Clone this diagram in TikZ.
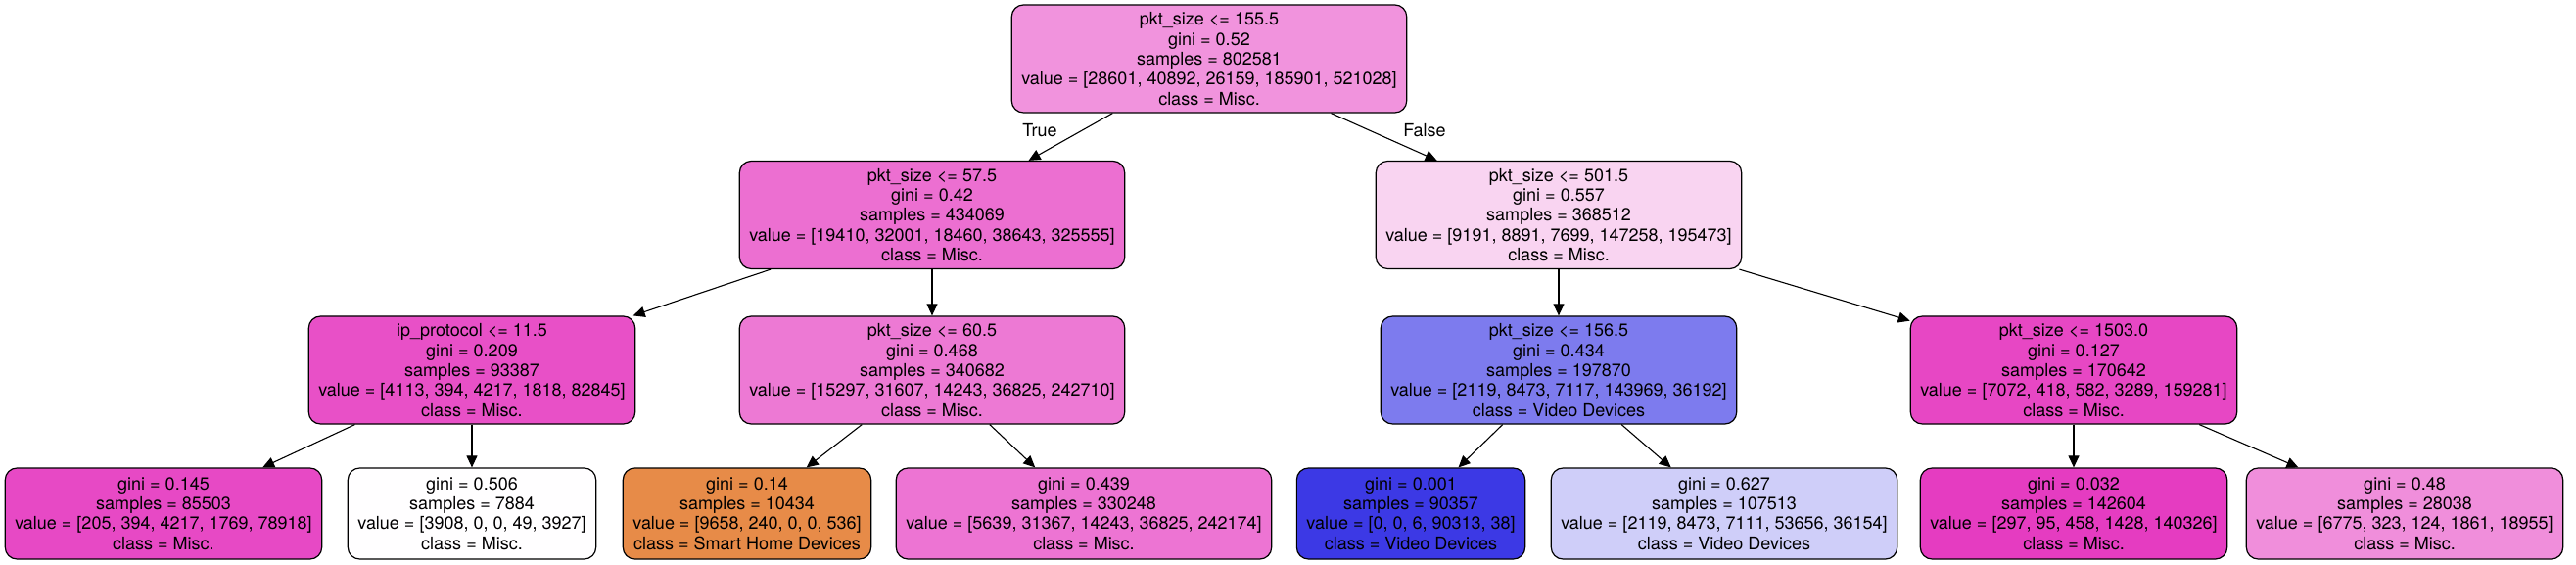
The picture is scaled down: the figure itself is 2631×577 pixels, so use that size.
\documentclass[tikz,border=0pt]{standalone}
\usepackage{fontspec}
\setmainfont{TeX Gyre Heros}
\usetikzlibrary{arrows.meta}
\definecolor{c0}{HTML}{F193DD}
\definecolor{c1}{HTML}{EC6FD1}
\definecolor{c2}{HTML}{F9D4F1}
\definecolor{c3}{HTML}{E850C7}
\definecolor{c4}{HTML}{ED79D4}
\definecolor{c5}{HTML}{7D7BEE}
\definecolor{c6}{HTML}{E747C4}
\definecolor{c7}{HTML}{E749C5}
\definecolor{c8}{HTML}{FFFEFF}
\definecolor{c9}{HTML}{E78B48}
\definecolor{c10}{HTML}{ED74D3}
\definecolor{c11}{HTML}{3C39E5}
\definecolor{c12}{HTML}{CFCEF9}
\definecolor{c13}{HTML}{E53CC1}
\definecolor{c14}{HTML}{F08EDB}
\tikzset{tnode/.style={draw,rounded corners=6pt,line width=0.6pt,align=center,inner xsep=5pt,inner ysep=0pt,minimum height=55pt,font=\fontsize{9pt}{10.15pt}\selectfont},
  tleaf/.style={tnode,minimum height=46.5pt},
  tedge/.style={line width=0.55pt,-{Triangle[length=6pt,width=5.5pt]}},
  tlabel/.style={font=\fontsize{9pt}{10.15pt}\selectfont}}

\begin{document}
\begin{tikzpicture}[x=0.5pt,y=-0.5pt]
  \useasboundingbox (0,0) rectangle (2631,577);
  % splits
  \node[tnode,fill=c0] (root) at (1235,60) {pkt\_size <= 155.5\\gini = 0.52\\samples = 802581\\value = [28601, 40892, 26159, 185901, 521028]\\class = Misc.};
  \node[tnode,fill=c1] (l) at (952,219.5) {pkt\_size <= 57.5\\gini = 0.42\\samples = 434069\\value = [19410, 32001, 18460, 38643, 325555]\\class = Misc.};
  \node[tnode,fill=c2] (r) at (1592,219.5) {pkt\_size <= 501.5\\gini = 0.557\\samples = 368512\\value = [9191, 8891, 7699, 147258, 195473]\\class = Misc.};
  \node[tnode,fill=c3] (ll) at (482,378) {ip\_protocol <= 11.5\\gini = 0.209\\samples = 93387\\value = [4113, 394, 4217, 1818, 82845]\\class = Misc.};
  \node[tnode,fill=c4] (lr) at (952,378) {pkt\_size <= 60.5\\gini = 0.468\\samples = 340682\\value = [15297, 31607, 14243, 36825, 242710]\\class = Misc.};
  \node[tnode,fill=c5] (rl) at (1592,378) {pkt\_size <= 156.5\\gini = 0.434\\samples = 197870\\value = [2119, 8473, 7117, 143969, 36192]\\class = Video Devices};
  \node[tnode,fill=c6] (rr) at (2118,378) {pkt\_size <= 1503.0\\gini = 0.127\\samples = 170642\\value = [7072, 418, 582, 3289, 159281]\\class = Misc.};
  % leaves
  \node[tleaf,fill=c7] (lll) at (167,524.5) {gini = 0.145\\samples = 85503\\value = [205, 394, 4217, 1769, 78918]\\class = Misc.};
  \node[tleaf,fill=c8] (llr) at (482,524.5) {gini = 0.506\\samples = 7884\\value = [3908, 0, 0, 49, 3927]\\class = Misc.};
  \node[tleaf,fill=c9] (lrl) at (763,524.5) {gini = 0.14\\samples = 10434\\value = [9658, 240, 0, 0, 536]\\class = Smart Home Devices};
  \node[tleaf,fill=c10] (lrr) at (1107,524.5) {gini = 0.439\\samples = 330248\\value = [5639, 31367, 14243, 36825, 242174]\\class = Misc.};
  \node[tleaf,fill=c11] (rll) at (1441,524.5) {gini = 0.001\\samples = 90357\\value = [0, 0, 6, 90313, 38]\\class = Video Devices};
  \node[tleaf,fill=c12] (rlr) at (1761,524.5) {gini = 0.627\\samples = 107513\\value = [2119, 8473, 7111, 53656, 36154]\\class = Video Devices};
  \node[tleaf,fill=c13] (rrl) at (2118,524.5) {gini = 0.032\\samples = 142604\\value = [297, 95, 458, 1428, 140326]\\class = Misc.};
  \node[tleaf,fill=c14] (rrr) at (2456,524.5) {gini = 0.48\\samples = 28038\\value = [6775, 323, 124, 1861, 18955]\\class = Misc.};
  \node[tlabel] (yes) at (1062,133) {True};
  \node[tlabel] (no) at (1455,133) {False};
  \foreach \a/\b in {root/l,root/r,l/ll,l/lr,r/rl,r/rr,ll/lll,ll/llr,lr/lrl,lr/lrr,rl/rll,rl/rlr,rr/rrl,rr/rrr}
    \draw[tedge] (\a) -- (\b);
\end{tikzpicture}
\end{document}
